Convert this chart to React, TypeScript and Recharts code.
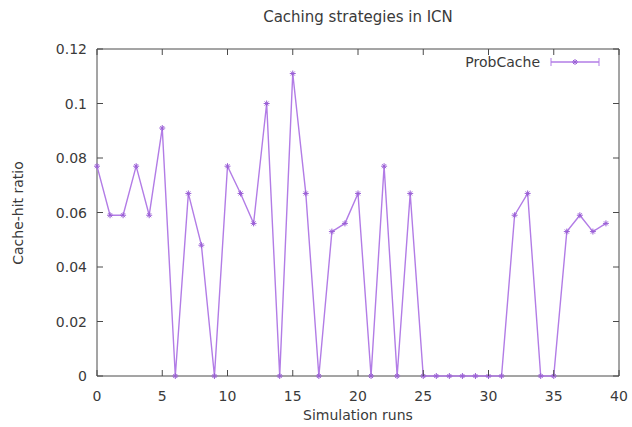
import React from 'react';
import { LineChart, Line, XAxis, YAxis, ReferenceArea } from 'recharts';

// simulation run index and ProbCache cache-hit ratio
const runs = [
  0, 1, 2, 3, 4, 5, 6, 7, 8, 9,
  10, 11, 12, 13, 14, 15, 16, 17, 18, 19,
  20, 21, 22, 23, 24, 25, 26, 27, 28, 29,
  30, 31, 32, 33, 34, 35, 36, 37, 38, 39,
];
const probCache = [
  0.077, 0.059, 0.059, 0.077, 0.059, 0.091, 0, 0.067, 0.048, 0,
  0.077, 0.067, 0.056, 0.1, 0, 0.111, 0.067, 0, 0.053, 0.056,
  0.067, 0, 0.077, 0, 0.067, 0, 0, 0, 0, 0,
  0, 0, 0.059, 0.067, 0, 0, 0.053, 0.059, 0.053, 0.056,
];
const xTicks = [0, 5, 10, 15, 20, 25, 30, 35, 40];
const yTicks = [0, 0.02, 0.04, 0.06, 0.08, 0.1, 0.12];

const data = runs.map((r, i) => ({ run: r, probCache: probCache[i] }));

const W = 632;
const H = 427;
const PLOT_LEFT = 97;
const PLOT_RIGHT = 619;
const PLOT_TOP = 49;
const PLOT_BOTTOM = 376;
const FONT = '"DejaVu Sans", Verdana, sans-serif';
const TEXT = '#3a3a3a';
const FRAME = '#4a4a4a';
const PURPLE = '#b27ce6';

const XTick = (props: any) => {
  const { x, payload } = props;
  return (
    <g>
      <line x1={x} y1={PLOT_BOTTOM} x2={x} y2={PLOT_BOTTOM - 6} stroke={FRAME} />
      <line x1={x} y1={PLOT_TOP} x2={x} y2={PLOT_TOP + 6} stroke={FRAME} />
      <text x={x} y={396} textAnchor="middle" dominantBaseline="central" fontSize={14} fill={TEXT} fontFamily={FONT}>
        {payload.value}
      </text>
    </g>
  );
};

const YTick = (props: any) => {
  const { y, payload } = props;
  return (
    <g>
      <line x1={PLOT_LEFT} y1={y} x2={PLOT_LEFT + 6} y2={y} stroke={FRAME} />
      <line x1={PLOT_RIGHT} y1={y} x2={PLOT_RIGHT - 6} y2={y} stroke={FRAME} />
      <text x={87} y={y} textAnchor="end" dominantBaseline="central" fontSize={14} fill={TEXT} fontFamily={FONT}>
        {payload.value}
      </text>
    </g>
  );
};

// gnuplot-ish star marker
const StarDot = (props: any) => {
  const { cx, cy, index } = props;
  const s = 3;
  return (
    <g key={`dot-${index}`} stroke="#9a5fd6" strokeWidth={1}>
      <line x1={cx - s} y1={cy} x2={cx + s} y2={cy} />
      <line x1={cx} y1={cy - s} x2={cx} y2={cy + s} />
      <line x1={cx - 2} y1={cy - 2} x2={cx + 2} y2={cy + 2} />
      <line x1={cx - 2} y1={cy + 2} x2={cx + 2} y2={cy - 2} />
    </g>
  );
};

export default function App() {
  return (
    <div style={{ position: 'absolute', left: 0, top: 0, width: W, height: H, background: '#fff', fontFamily: FONT }}>
      <LineChart
        width={W}
        height={H}
        data={data}
        margin={{ top: PLOT_TOP, right: W - PLOT_RIGHT, bottom: 0, left: 0 }}
      >
        <XAxis
          dataKey="run"
          type="number"
          domain={[0, 40]}
          ticks={xTicks}
          interval={0}
          height={H - PLOT_BOTTOM}
          axisLine={false}
          tickLine={false}
          tick={<XTick />}
        />
        <YAxis
          type="number"
          domain={[0, 0.12]}
          ticks={yTicks}
          interval={0}
          width={PLOT_LEFT}
          axisLine={false}
          tickLine={false}
          tick={<YTick />}
        />
        <ReferenceArea x1={0} x2={40} y1={0} y2={0.12} fill="none" stroke={FRAME} strokeWidth={1} />
        <Line
          type="linear"
          dataKey="probCache"
          stroke={PURPLE}
          strokeWidth={1.4}
          dot={<StarDot />}
          activeDot={false}
          isAnimationActive={false}
        />
      </LineChart>

      <div style={{ position: 'absolute', left: 0, width: W, top: 8, textAlign: 'center', paddingLeft: 84, boxSizing: 'border-box', fontSize: 15, color: TEXT }}>
        Caching strategies in ICN
      </div>
      <div style={{ position: 'absolute', left: PLOT_LEFT, width: PLOT_RIGHT - PLOT_LEFT, top: 407, textAlign: 'center', fontSize: 14, color: TEXT }}>
        Simulation runs
      </div>
      <div
        style={{
          position: 'absolute',
          left: 18,
          top: (PLOT_TOP + PLOT_BOTTOM) / 2,
          transform: 'translate(-50%, -50%) rotate(-90deg)',
          whiteSpace: 'nowrap',
          fontSize: 14,
          color: TEXT,
        }}
      >
        Cache-hit ratio
      </div>

      <div style={{ position: 'absolute', right: W - 600, top: 54, display: 'flex', alignItems: 'center', fontSize: 14, color: TEXT }}>
        <span style={{ marginRight: 10 }}>ProbCache</span>
        <svg width={50} height={12}>
          <line x1={1} y1={6} x2={49} y2={6} stroke={PURPLE} strokeWidth={1.4} />
          <line x1={1} y1={2} x2={1} y2={10} stroke={PURPLE} strokeWidth={1} />
          <line x1={49} y1={2} x2={49} y2={10} stroke={PURPLE} strokeWidth={1} />
          <StarDot cx={25} cy={6} index={0} />
        </svg>
      </div>
    </div>
  );
}
